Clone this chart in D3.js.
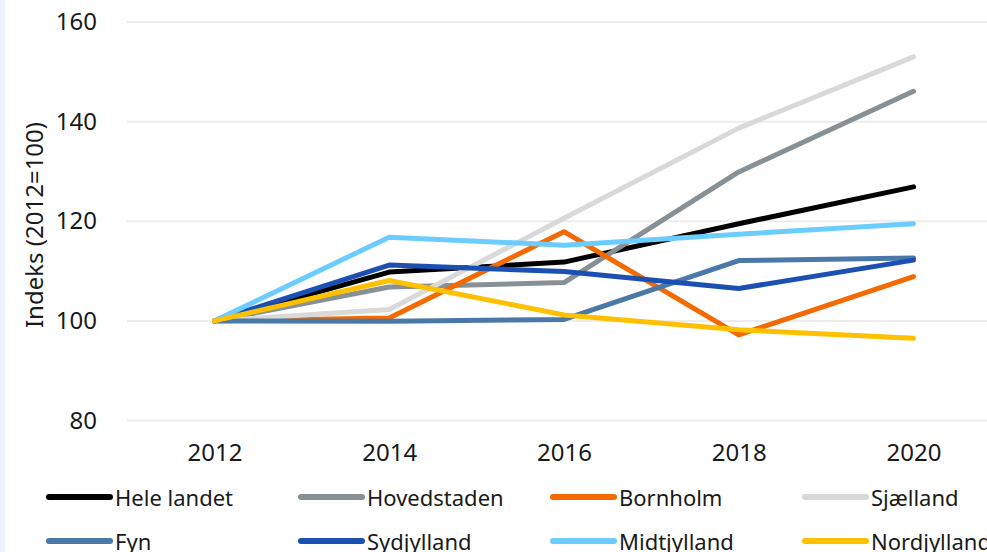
<!DOCTYPE html>
<html>
<head>
<meta charset="utf-8">
<script src="https://cdn.jsdelivr.net/npm/d3@7"></script>
<style>
  html, body { margin: 0; padding: 0; background: #ffffff; overflow: hidden; }
  svg { display: block; font-family: "Noto Sans", "Open Sans", sans-serif; }
</style>
</head>
<body>
<svg id="chart" width="987" height="552"></svg>
<script>
// Years on the x axis
const years = ["2012", "2014", "2016", "2018", "2020"];

// Region names, in legend order
const regions = ["Hele landet", "Hovedstaden", "Bornholm", "Sjælland",
                 "Fyn", "Sydjylland", "Midtjylland", "Nordjylland"];

// Index values (2012 = 100) per region
const heleLandet  = [100, 109.8, 111.8, 119.5, 126.9];
const hovedstaden = [100, 106.8, 107.7, 129.9, 146.1];
const bornholm    = [100, 100.6, 117.9,  97.2, 108.9];
const sjaelland   = [100, 102.3, 120.6, 138.7, 153.0];
const fyn         = [100,  99.9, 100.3, 112.1, 112.6];
const sydjylland  = [100, 111.2, 109.9, 106.5, 112.2];
const midtjylland = [100, 116.8, 115.2, 117.4, 119.5];
const nordjylland = [100, 108.1, 101.2,  98.2,  96.5];

const seriesValues = [heleLandet, hovedstaden, bornholm, sjaelland,
                      fyn, sydjylland, midtjylland, nordjylland];

const colors = ["#000000", "#879094", "#f46a00", "#d9d9d9",
                "#4a78a8", "#1b50b2", "#6accff", "#ffc000"];

// Y axis ticks
const yTicks = [80, 100, 120, 140, 160];

const svg = d3.select("#chart");
const W = 987, H = 552;

// Thin tinted strip on the left edge
svg.append("rect").attr("x", 0).attr("y", 0).attr("width", 5).attr("height", H)
  .attr("fill", "#eef2fa");

const x = d3.scalePoint().domain(years).range([214.5, 913.5]);
const y = d3.scaleLinear().domain([80, 160]).range([420.5, 22]);

// Gridlines
svg.append("g").selectAll("line").data(yTicks).join("line")
  .attr("x1", 127).attr("x2", W)
  .attr("y1", d => y(d)).attr("y2", d => y(d))
  .attr("stroke", "#ececec").attr("stroke-width", 2);

// Y tick labels
const yAxis = d3.axisLeft(y).tickValues(yTicks).tickSize(0).tickPadding(0);
svg.append("g").attr("transform", "translate(97,0)").call(yAxis)
  .call(g => g.select(".domain").remove())
  .selectAll("text")
  .attr("font-size", 24).attr("font-family", "Noto Sans, sans-serif")
  .attr("fill", "#1a1a1a");

// X tick labels
const xAxis = d3.axisBottom(x).tickSize(0).tickPadding(0);
svg.append("g").attr("transform", "translate(0,444)").call(xAxis)
  .call(g => g.select(".domain").remove())
  .selectAll("text")
  .attr("font-size", 24).attr("font-family", "Noto Sans, sans-serif")
  .attr("fill", "#1a1a1a");

// Y axis title
svg.append("text")
  .attr("transform", "translate(33,225) rotate(-90)")
  .attr("text-anchor", "middle").attr("dominant-baseline", "central")
  .attr("font-size", 24).attr("fill", "#1a1a1a")
  .text("Indeks (2012=100)");

// Series lines
const line = d3.line().x((d, i) => x(years[i])).y(d => y(d));
svg.append("g").selectAll("path").data(seriesValues).join("path")
  .attr("d", d => line(d))
  .attr("fill", "none")
  .attr("stroke", (d, i) => colors[i])
  .attr("stroke-width", 5)
  .attr("stroke-linecap", "round")
  .attr("stroke-linejoin", "round");

// Legend: four columns, two rows
const legend = svg.append("g");
const items = legend.selectAll("g").data(regions).join("g")
  .attr("transform", (d, i) => `translate(${49 + (i % 4) * 252},${i < 4 ? 497 : 541})`);
items.append("line")
  .attr("x1", 0).attr("x2", 61).attr("y1", 0).attr("y2", 0)
  .attr("stroke", (d, i) => colors[i]).attr("stroke-width", 6)
  .attr("stroke-linecap", "round");
items.append("text")
  .attr("x", 66).attr("y", 0).attr("dominant-baseline", "central")
  .attr("font-size", 22).attr("fill", "#1a1a1a")
  .text(d => d);
</script>
</body>
</html>
